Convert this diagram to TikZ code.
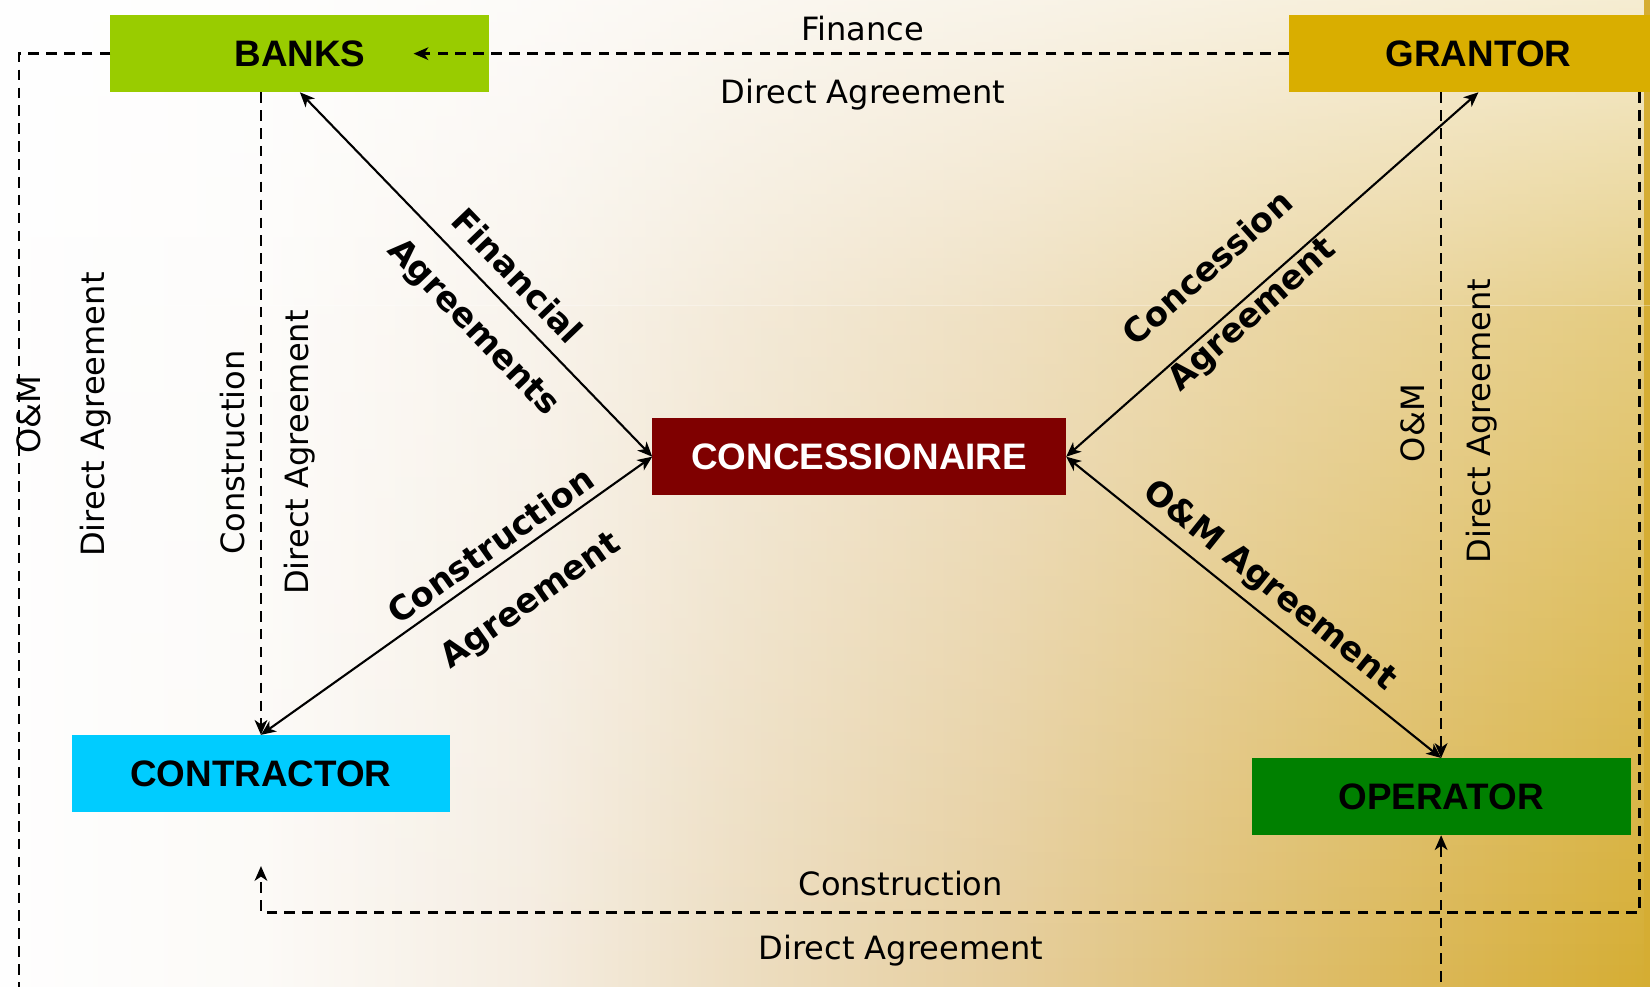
\documentclass[tikz,border=0pt]{standalone}
\usepackage{fontspec}
\setmainfont{DejaVu Sans}
\newfontfamily\boxfont{Liberation Sans}
\usetikzlibrary{arrows.meta,fadings,calc}

\definecolor{banksgreen}{HTML}{99CC00}
\definecolor{grantorgold}{HTML}{D9AE00}
\definecolor{concred}{HTML}{7F0000}
\definecolor{contrblue}{HTML}{00CCFF}
\definecolor{opergreen}{HTML}{008000}
\definecolor{bga}{HTML}{FEFEFE}
\definecolor{bgb}{HTML}{FCFAF7}
\definecolor{bgc}{HTML}{F5EDE1}
\definecolor{bgd}{HTML}{EDDEC2}
\definecolor{bge}{HTML}{E6CE9D}
\definecolor{bgf}{HTML}{DFBF6F}
\definecolor{bgg}{HTML}{DAB54F}
\definecolor{bgh}{HTML}{D5AD32}

\pgfdeclarehorizontalshading{bgshade}{100bp}{color(0bp)=(bga); color(25bp)=(bga);
  color(33bp)=(bgb); color(41bp)=(bgc); color(47.3bp)=(bgd); color(55.3bp)=(bge);
  color(63.3bp)=(bgf); color(69.6bp)=(bgg); color(75bp)=(bgh); color(100bp)=(bgh)}

\tikzfading[name=upperwhite, top color=transparent!22, bottom color=transparent!58]
\tikzfading[name=lowerwhite, top color=transparent!62, middle color=transparent!92, bottom color=transparent!100]

\begin{document}
\begin{tikzpicture}[x=1pt,y=1pt,
  party/.style={minimum width=360pt, minimum height=73pt, inner sep=0pt,
    font=\boxfont\bfseries\fontsize{35}{40}\selectfont},
  dline/.style={draw=black, line width=2.3pt, dash pattern=on 10pt off 7pt},
  sline/.style={draw=black, line width=2pt},
  lbl/.style={font=\fontsize{30.5}{36}\selectfont, inner sep=0pt},
  blbl/.style={font=\bfseries\fontsize{32}{38}\selectfont, inner sep=0pt},
  >={Stealth[length=14pt,width=12pt,inset=4pt]}]

\useasboundingbox (0,0) rectangle (1568,-937);
\shade[shading=bgshade] (-2,2) rectangle (1570,-939);
\fill[white, path fading=upperwhite] (-2,3) rectangle (1570,-290);
\fill[white, path fading=lowerwhite] (-2,-290) rectangle (1570,-939);
\draw[white, opacity=0.35, line width=1pt] (0,-290) -- (1568,-290);

% nodes
\node[party, fill=banksgreen] (banks) at (285,-51) {BANKS};
\node[party, fill=grantorgold] (grantor) at (1405,-51) {GRANTOR};
\node[party, fill=concred, text=white, minimum width=393pt] (conc) at (816.5,-434) {CONCESSIONAIRE};
\node[party, fill=contrblue] (contr) at (248,-735) {CONTRACTOR};
\node[party, fill=opergreen] (oper) at (1369.5,-757) {OPERATOR};

% free ends
\coordinate (finEnd) at (393,-51);
\coordinate (omEnd) at (18,-950);
\coordinate (operBottom) at (1369.5,-950);
\coordinate (loopCorner) at (1558,-867);
\coordinate (constrEnd) at (248,-823);

% dashed direct agreements
\draw[dline,->] (grantor.west) -- (finEnd);
\draw[dline] (banks.west) -| (omEnd);
\draw[dline,->] (contr.north |- banks.south) -- (contr.north);
\draw[dline,->] (oper.north |- grantor.south) -- (oper.north);
\draw[dline,->] (operBottom) -- (oper.south);
\draw[dline,->] (loopCorner |- grantor.south) -- (loopCorner) -| (constrEnd);

% agreements
\draw[sline,<->] (banks.south) -- (conc.west);
\draw[sline,<->] (grantor.south) -- (conc.east);
\draw[sline,<->] (conc.west) -- (contr.north);
\draw[sline,<->] (conc.east) -- (oper.north);

% bold labels
\node[blbl, rotate=-46.2] (lfin1) at (492,-262) {Financial};
\node[blbl, rotate=-46.2] (lfin2) at (449,-312) {Agreements};
\node[blbl, rotate=41.7] (lcon1) at (1147,-254) {Concession};
\node[blbl, rotate=41.7] (lcon2) at (1191,-300) {Agreement};
\node[blbl, rotate=35.3] (lcst1) at (466,-518) {Construction};
\node[blbl, rotate=35.3] (lcst2) at (505,-572) {Agreement};
\node[blbl, rotate=-38.7] (lom) at (1206,-557) {O\&M Agreement};

% regular labels
\node[lbl] (tfin) at (820,-27) {Finance};
\node[lbl] (tfinda) at (820,-90) {Direct Agreement};
\node[lbl, rotate=90] (lom1) at (27,-394) {O\&M};
\node[lbl, rotate=90] (lomda) at (91,-394) {Direct Agreement};
\node[lbl, rotate=90] (lcs) at (221,-430) {Construction};
\node[lbl, rotate=90] (lcsda) at (285,-430) {Direct Agreement};
\node[lbl, rotate=90] (rom) at (1343,-402) {O\&M};
\node[lbl, rotate=90] (romda) at (1408,-400) {Direct Agreement};
\node[lbl] (bcs) at (856,-840) {Construction};
\node[lbl] (bcsda) at (856,-903) {Direct Agreement};
\end{tikzpicture}
\end{document}
